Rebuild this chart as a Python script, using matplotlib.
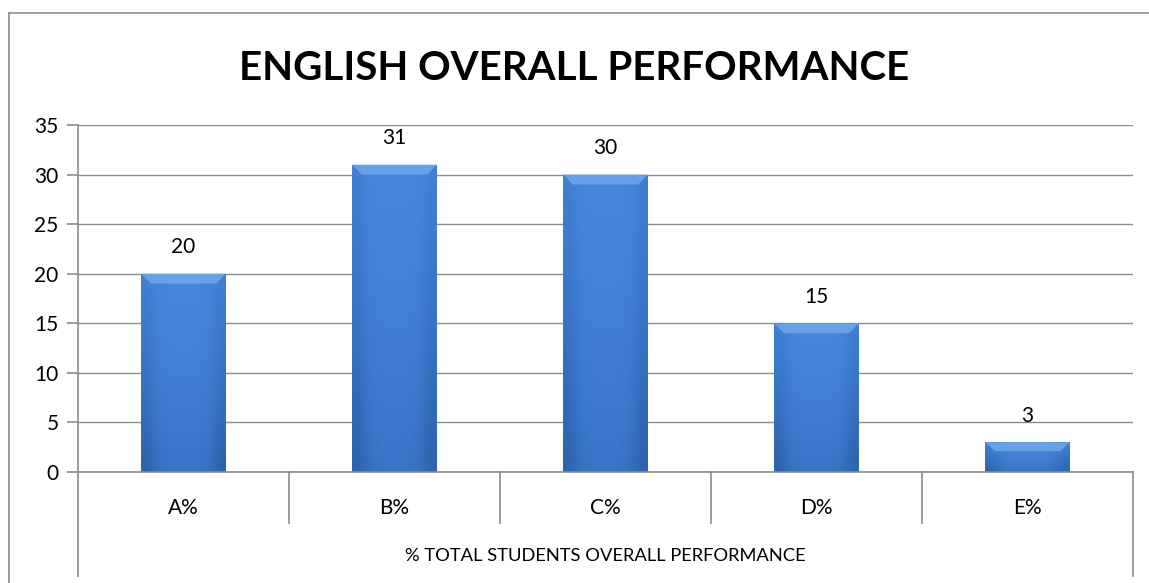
import matplotlib
matplotlib.use('Agg')
import matplotlib.pyplot as plt
import numpy as np
from matplotlib.lines import Line2D
from matplotlib.patches import Polygon
import matplotlib.transforms as mtransforms

plt.rcParams['font.family'] = ['Lato', 'DejaVu Sans']

categories = ['A%', 'B%', 'C%', 'D%', 'E%']
values = [20, 31, 30, 15, 3]
title = 'ENGLISH OVERALL PERFORMANCE'
group_label = '% TOTAL STUDENTS OVERALL PERFORMANCE'

W, H = 1149, 583
fig = plt.figure(figsize=(W / 100, H / 100), dpi=100)
ax = fig.add_axes([78 / W, 1 - 472 / H, (1133 - 78) / W, (472 - 125) / H])

grey = '#8c8c8c'
x = np.arange(len(categories))
bw = 0.40

ax.set_xlim(-0.5, len(categories) - 0.5)
ax.set_ylim(0, 35)
ax.set_yticks(range(0, 36, 5))
ax.grid(axis='y', color=grey, linewidth=1)
ax.set_axisbelow(True)
for s in ['top', 'right']:
    ax.spines[s].set_visible(False)
for s in ['left', 'bottom']:
    ax.spines[s].set_color(grey)
    ax.spines[s].set_linewidth(1.2)
ax.tick_params(axis='y', length=8, color=grey, width=1.2, labelsize=15, pad=6)
ax.tick_params(axis='x', length=0, labelbottom=False)

bars = ax.bar(x, values, width=bw, color='#3f7dd0', edgecolor='none', zorder=2)

# shading: a bit lighter at top, darker at the bottom and the sides
vert = np.linspace(1.0, 0.0, 50)[:, None]
horiz = np.array([0.55, 0.9, 1.0, 1.0, 1.0, 0.9, 0.55])[None, :]
grad = vert * 0.45 + 0.55 * horiz
cmap = matplotlib.colors.LinearSegmentedColormap.from_list('b', ['#2f63ad', '#3d7bd0', '#4587dc'])
bev_x = 0.045
bev_y = 1.0
for b in bars:
    x0, w, h = b.get_x(), b.get_width(), b.get_height()
    im = ax.imshow(grad, extent=[x0, x0 + w, 0, h], aspect='auto', cmap=cmap,
                   interpolation='bilinear', zorder=2.1)
    im.set_clip_path(b)
    by = min(bev_y, h * 0.3)
    top = Polygon([[x0, h], [x0 + w, h], [x0 + w - bev_x, h - by], [x0 + bev_x, h - by]],
                  closed=True, facecolor='#6fa6ec', edgecolor='none', zorder=2.2, alpha=0.85)
    ax.add_patch(top)
    ax.add_patch(Polygon(b.get_verts(), closed=True, fill=False, edgecolor='#2c5c9c',
                         linewidth=1.5, zorder=2.3))

for xi, v in zip(x, values):
    ax.annotate(str(v), (xi, v), xytext=(0, 12), textcoords='offset points',
                ha='center', va='bottom', fontsize=15, zorder=4)

# category axis with separators
trans = mtransforms.blended_transform_factory(ax.transData, ax.transAxes)
ph = 472 - 125
for i in range(1, len(categories)):
    ax.plot([i - 0.5, i - 0.5], [0, -(523 - 472) / ph], transform=trans, color=grey, lw=1.2, clip_on=False)
for xe in [-0.5, len(categories) - 0.5]:
    ax.plot([xe, xe], [0, -(576 - 472) / ph], transform=trans, color=grey, lw=1.2, clip_on=False)

for xi, c in zip(x, categories):
    ax.text(xi, -(508 - 472) / ph, c, transform=trans, ha='center', va='center', fontsize=15)
ax.text(2, -(556 - 472) / ph, group_label, transform=trans, ha='center', va='center', fontsize=13.2)

fig.text(0.5, 1 - 69 / H, title, ha='center', va='center', fontsize=29, fontweight='bold')

# chart area border (left and top edge visible)
fig.add_artist(Line2D([8.5 / W, 8.5 / W], [0, 1 - 13 / H], color=grey, lw=1.2))
fig.add_artist(Line2D([8.5 / W, 1], [1 - 13 / H, 1 - 13 / H], color=grey, lw=1.2))

fig.savefig('out.png', dpi=100)
